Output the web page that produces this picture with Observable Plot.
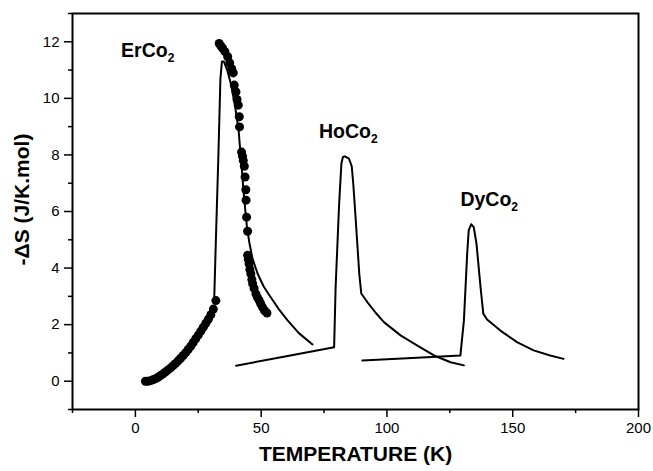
<!DOCTYPE html>
<html><head><meta charset="utf-8">
<script src="https://cdn.jsdelivr.net/npm/d3@7"></script>
<script src="https://cdn.jsdelivr.net/npm/@observablehq/plot@0.6"></script>
<style>body{margin:0;background:#fff}</style>
</head><body><div id="chart"></div>
<script>
// ErCo2 measured points (dots)
const erDotT = [4,5,6,7,8,9,10,11,12,13,14,15,16,17,18,19,20,21,22,23,24,25,26,27,28,29,30,31,32,
  33.3,34.0,34.7,35.6,36.7,37.5,38.3,38.9,39.3,40.0,40.4,40.9,41.3,41.4,42.2,42.6,42.9,43.3,43.6,43.9,44.0,44.2,44.6,
  44.6,44.9,45.2,45.5,45.9,46.3,46.6,47.2,47.9,48.5,49.2,49.8,50.5,51.3,52.3];
const erDotS = [0.00,0.00,0.02,0.05,0.09,0.14,0.20,0.26,0.33,0.40,0.47,0.55,0.63,0.72,0.81,0.91,1.01,1.12,1.24,1.37,1.50,1.63,1.77,1.91,2.05,2.19,2.35,2.55,2.85,
  11.94,11.85,11.77,11.65,11.47,11.25,11.05,10.9,10.47,10.23,9.96,9.76,9.35,8.99,8.1,7.95,7.8,7.6,7.22,6.77,6.4,5.8,5.3,
  4.45,4.3,4.15,3.95,3.8,3.6,3.45,3.28,3.09,2.97,2.86,2.74,2.62,2.5,2.41];
// ErCo2 solid curve
const erLineT = [31.3,32.0,33.0,33.8,34.4,35.2,36.5,38.0,39.5,41.0,42.2,43.3,44.3,45.2,46.5,48.6,51.0,53.8,57.0,60.5,65.0,70.4];
const erLineS = [2.8,5.0,8.0,10.7,11.3,11.3,11.0,10.5,9.8,8.9,7.6,6.4,5.5,4.95,4.35,3.8,3.35,2.97,2.55,2.15,1.7,1.3];
// HoCo2 curve
const hoT = [40.0,60.0,79.0,79.6,81.0,81.9,82.5,83.3,84.9,86.0,86.6,87.6,89.0,89.8,92.2,95.5,98.8,105.4,112.1,118.7,125.3,130.6];
const hoS = [0.55,0.88,1.2,3.33,6.28,7.7,7.93,7.95,7.87,7.6,7.0,5.69,3.8,3.1,2.8,2.42,2.09,1.62,1.26,0.91,0.67,0.56];
// DyCo2 curve
const dyT = [90.2,110.0,129.2,130.6,131.9,132.5,133.5,134.5,135.6,137.2,138.3,139.8,145.1,151.7,158.3,164.9,170.2];
const dyS = [0.73,0.82,0.91,2.15,4.51,5.33,5.55,5.45,4.86,3.33,2.39,2.18,1.79,1.38,1.09,0.91,0.79];
// labels
const labelNames = ["ErCo2","HoCo2","DyCo2"];
const labelT = [-5.7, 73.0, 129.2];
const labelS = [11.46, 8.59, 6.18];
// ticks
const xMajor = [0,50,100,150,200];
const xMinor = [-25,25,75,125,175];
const yMajor = [0,2,4,6,8,10,12];
const yMinor = [-1,1,3,5,7,9,11,13];
const xTitle = "TEMPERATURE (K)";
const yTitle = "-\u0394S (J/K.mol)";

const erDots = erDotT.map((t,i)=>({t, s: erDotS[i]}));
const erLine = erLineT.map((t,i)=>({t, s: erLineS[i]}));
const ho = hoT.map((t,i)=>({t, s: hoS[i]}));
const dy = dyT.map((t,i)=>({t, s: dyS[i]}));
const labels = labelNames.map((n,i)=>({n, t: labelT[i], s: labelS[i]}));

const font = "'Liberation Sans', Arial, Helvetica, sans-serif";
const chart = Plot.plot({
  width: 653, height: 471,
  marginLeft: 72, marginRight: 15, marginTop: 13, marginBottom: 62,
  style: {fontFamily: font, fontSize: "15px", color: "#000", background: "#fff"},
  x: {domain: [-25, 200]},
  y: {domain: [-1, 13]},
  marks: [
    Plot.axisX(xMajor, {tickSize: 8, tickPadding: 5, strokeWidth: 1.5, fontSize: 15, label: null}),
    Plot.axisX(xMinor, {tickSize: 4, strokeWidth: 1.5, tickFormat: () => "", label: null}),
    Plot.axisY(yMajor, {tickSize: 8, tickPadding: 5, strokeWidth: 1.5, fontSize: 15, label: null}),
    Plot.axisY(yMinor, {tickSize: 4, strokeWidth: 1.5, tickFormat: () => "", label: null}),
    Plot.line(erLine, {x: "t", y: "s", stroke: "#000", strokeWidth: 2}),
    Plot.line(ho, {x: "t", y: "s", stroke: "#000", strokeWidth: 2}),
    Plot.line(dy, {x: "t", y: "s", stroke: "#000", strokeWidth: 2}),
    Plot.dot(erDots, {x: "t", y: "s", r: 4.5, fill: "#000", stroke: "none"}),
    Plot.text(labels, {x: "t", y: "s", text: "n", textAnchor: "start", lineAnchor: "bottom", fontWeight: "bold", fontSize: 19.5, fill: "#000"}),
    Plot.text([xTitle], {frameAnchor: "bottom", dy: 51, text: d => d, fontWeight: "bold", fontSize: 21, fill: "#000"}),
    Plot.text([yTitle], {frameAnchor: "left", textAnchor: "middle", dx: -50, dy: -12, rotate: -90, text: d => d, fontWeight: "bold", fontSize: 21, fill: "#000"}),
    Plot.frame({stroke: "#000", strokeWidth: 2})
  ]
});
// subscripts for the compound names
chart.querySelectorAll("text").forEach(el => {
  if (labelNames.includes(el.textContent)) {
    const name = el.textContent;
    el.textContent = "";
    const ns = "http://www.w3.org/2000/svg";
    const a = document.createElementNS(ns, "tspan");
    a.textContent = name.slice(0, -1);
    const b = document.createElementNS(ns, "tspan");
    b.textContent = name.slice(-1);
    b.setAttribute("font-size", "12");
    b.setAttribute("dy", "5");
    el.appendChild(a); el.appendChild(b);
  }
});
document.getElementById("chart").appendChild(chart);
</script>
</body></html>
